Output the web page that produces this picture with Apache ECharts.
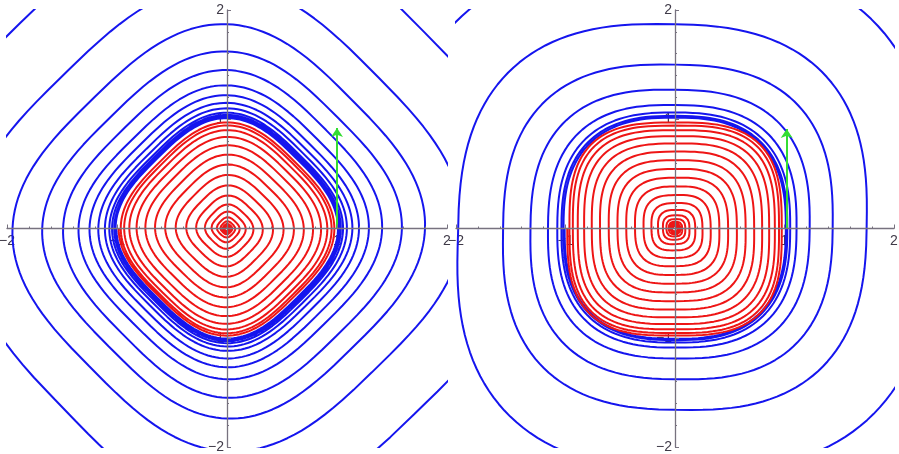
<!DOCTYPE html>
<html><head><meta charset="utf-8">
<script src="https://cdn.jsdelivr.net/npm/echarts@6/dist/echarts.min.js"></script>
<style>html,body{margin:0;padding:0;background:#fff}#c{width:899px;height:454px}</style>
</head><body><div id="c"></div>
<script>
// Axis crossing radii of each trajectory, one value per quarter turn
// (order: left, top, right, bottom, left, ... ; trajectories run clockwise)
const axisTicks = [-2, -1, 0, 1, 2];
const leftRedQ = [
 0.020,0.022,0.024,0.026, 0.028,0.031,0.034,0.037, 0.040,0.044,0.049,0.054,
 0.060,0.067,0.075,0.083, 0.092,0.103,0.115,0.127, 0.140,0.155,0.170,0.185,
 0.200,0.220,0.240,0.260, 0.280,0.302,0.325,0.347, 0.370,0.394,0.418,0.442,
 0.466,0.490,0.514,0.538, 0.562,0.585,0.608,0.631, 0.654,0.676,0.698,0.720,
 0.742,0.762,0.782,0.802, 0.822,0.838,0.855,0.872, 0.888,0.900,0.912,0.924,
 0.935,0.943,0.951,0.959, 0.966,0.971,0.976,0.981, 0.985
];
const leftBlueQ = [
 3.05,2.92,2.78,2.62, 2.35,2.24,2.14,2.04, 1.95,1.87,1.80,1.74,
 1.68,1.62,1.59,1.55, 1.49,1.45,1.41,1.38, 1.35,1.31,1.29,1.27,
 1.25,1.22,1.20,1.19, 1.17,1.15,1.14,1.12, 1.11,1.10,1.09,1.08,
 1.07,1.06,1.055,1.05, 1.045,1.04,1.035,1.03, 1.025,1.022,1.019,1.016,
 1.013,1.011,1.009,1.007, 1.005
];
const rightRedQ = [
 0.020,0.022,0.024,0.026, 0.028,0.031,0.034,0.037, 0.040,0.044,0.048,0.052,
 0.056,0.061,0.066,0.072, 0.078,0.086,0.094,0.102, 0.110,0.121,0.132,0.143,
 0.155,0.170,0.185,0.200, 0.215,0.233,0.251,0.269, 0.287,0.306,0.326,0.345,
 0.365,0.385,0.405,0.425, 0.445,0.465,0.485,0.505, 0.525,0.545,0.565,0.585,
 0.605,0.625,0.645,0.665, 0.685,0.704,0.723,0.742, 0.760,0.778,0.796,0.813,
 0.830,0.845,0.860,0.875, 0.888,0.900,0.912,0.923, 0.933,0.942,0.950,0.957,
 0.964,0.970,0.975,0.980, 0.984
];
const rightBlueQ = [
 2.60,2.48,2.36,2.22, 1.98,1.87,1.75,1.66, 1.57,1.50,1.44,1.38,
 1.32,1.27,1.23,1.19, 1.16,1.13,1.11,1.09, 1.075,1.062,1.052,1.044,
 1.037,1.031,1.026,1.022, 1.018,1.015,1.012,1.010, 1.008
];
// curve shape: left = rounded diamond, right = rounded square
const leftShape = { rotated: true, q: 3.0 };
const rightRedShape = { rotated: false, q: 3.0 };
const rightBlueShape = { rotated: false, q: 2.6 };
// green arrows (start, end)
const leftArrow = [[1.0, 0.0], [1.0, 0.92]];
const rightArrow = [[1.02, 0.0], [1.02, 0.91]];

function unitPoint(phi, shape) {
  const e = 2 / shape.q;
  if (!shape.rotated) {
    const c = Math.cos(phi), s = Math.sin(phi);
    return [Math.sign(c) * Math.pow(Math.abs(c), e), Math.sign(s) * Math.pow(Math.abs(s), e)];
  }
  const t = phi - Math.PI / 4;
  const k = 1 / (Math.SQRT2 * Math.pow(0.5, 1 / shape.q));
  const c = Math.cos(t), s = Math.sin(t);
  const u = k * Math.sign(c) * Math.pow(Math.abs(c), e);
  const v = k * Math.sign(s) * Math.pow(Math.abs(s), e);
  return [(u - v) / Math.SQRT2, (u + v) / Math.SQRT2];
}
function trajectory(q, shape) {
  const pts = [], steps = 36;
  const pt = (r, a) => { const p = unitPoint(a, shape); return [r * p[0], r * p[1]]; };
  for (let i = 0; i < q.length - 1; i++) {
    const a0 = Math.PI - i * Math.PI / 2;
    for (let k = 0; k < steps; k++) {
      const t = k / steps;
      pts.push(pt(q[i] + (q[i + 1] - q[i]) * t, a0 - t * Math.PI / 2));
    }
  }
  pts.push(pt(q[q.length - 1], Math.PI - (q.length - 1) * Math.PI / 2));
  return pts;
}

const BLUE = '#1515ee', RED = '#ee1515', GREEN = '#33dd33', AX = '#77727f', LAB = '#3f3a48';
const fmt = v => v === 0 ? '' : (v < 0 ? '\u2212' + (-v) : String(v));
const MIN = axisTicks[0], MAX = axisTicks[axisTicks.length - 1];
const GRIDS = [
  { left: 7, top: 10, width: 440, height: 437 },
  { left: 456, top: 10, width: 438, height: 437 }
];

// label-only axes (drawn under the curves), shifted from the grid edge to the zero line
function labelAxis(g, dim) {
  const gr = GRIDS[g];
  const isX = dim === 'x';
  const off = isX ? -gr.height / 2 : -gr.width / 2;
  return { gridIndex: g, type: 'value', min: MIN, max: MAX, interval: 1, position: isX ? 'bottom' : 'left', offset: off, z: 0,
    axisLine: { show: false, onZero: false }, axisTick: { show: false }, splitLine: { show: false },
    axisLabel: { show: true, formatter: fmt, margin: isX ? 6 : 3, fontSize: 14, color: LAB, fontFamily: 'Liberation Sans', showMinLabel: true, showMaxLabel: true } };
}
// axis line + ticks (drawn over the curves)
function lineAxis(g, dim, zeroIdx) {
  return { gridIndex: g, type: 'value', min: MIN, max: MAX, interval: 1, position: dim === 'x' ? 'bottom' : 'left', z: 5,
    axisLine: { show: true, onZero: true, onZeroAxisIndex: zeroIdx, lineStyle: { color: AX, width: 1.3 } },
    axisTick: { show: true, inside: true, length: 4, lineStyle: { color: AX, width: 1 } },
    minorTick: { show: true, splitNumber: 5, length: 2, lineStyle: { color: AX, width: 1 } },
    splitLine: { show: false }, minorSplitLine: { show: false }, axisLabel: { show: false } };
}
function curve(data, color, xi, yi) {
  return { type: 'line', xAxisIndex: xi, yAxisIndex: yi, data: data, showSymbol: false, symbol: 'none', clip: true,
    lineStyle: { color: color, width: 2 }, z: 2, silent: true };
}
function arrow(c, xi, yi) {
  return { type: 'lines', coordinateSystem: 'cartesian2d', xAxisIndex: xi, yAxisIndex: yi, z: 4,
    symbol: ['none', 'arrow'], symbolSize: [7, 9], lineStyle: { color: GREEN, width: 2, opacity: 1 },
    data: [{ coords: c }] };
}

const chart = echarts.init(document.getElementById('c'), null, { renderer: 'canvas' });
chart.setOption({
  animation: false,
  backgroundColor: '#fff',
  grid: GRIDS.map(g => Object.assign({ containLabel: false, outerBoundsMode: 'none' }, g)),
  xAxis: [labelAxis(0, 'x'), lineAxis(0, 'x', 1), labelAxis(1, 'x'), lineAxis(1, 'x', 3)],
  yAxis: [labelAxis(0, 'y'), lineAxis(0, 'y', 1), labelAxis(1, 'y'), lineAxis(1, 'y', 3)],
  series: [
    curve(trajectory(leftBlueQ, leftShape), BLUE, 0, 0),
    curve(trajectory(leftRedQ, leftShape), RED, 0, 0),
    arrow(leftArrow, 0, 0),
    curve(trajectory(rightBlueQ, rightBlueShape), BLUE, 2, 2),
    curve(trajectory(rightRedQ, rightRedShape), RED, 2, 2),
    arrow(rightArrow, 2, 2)
  ]
});
</script></body></html>
